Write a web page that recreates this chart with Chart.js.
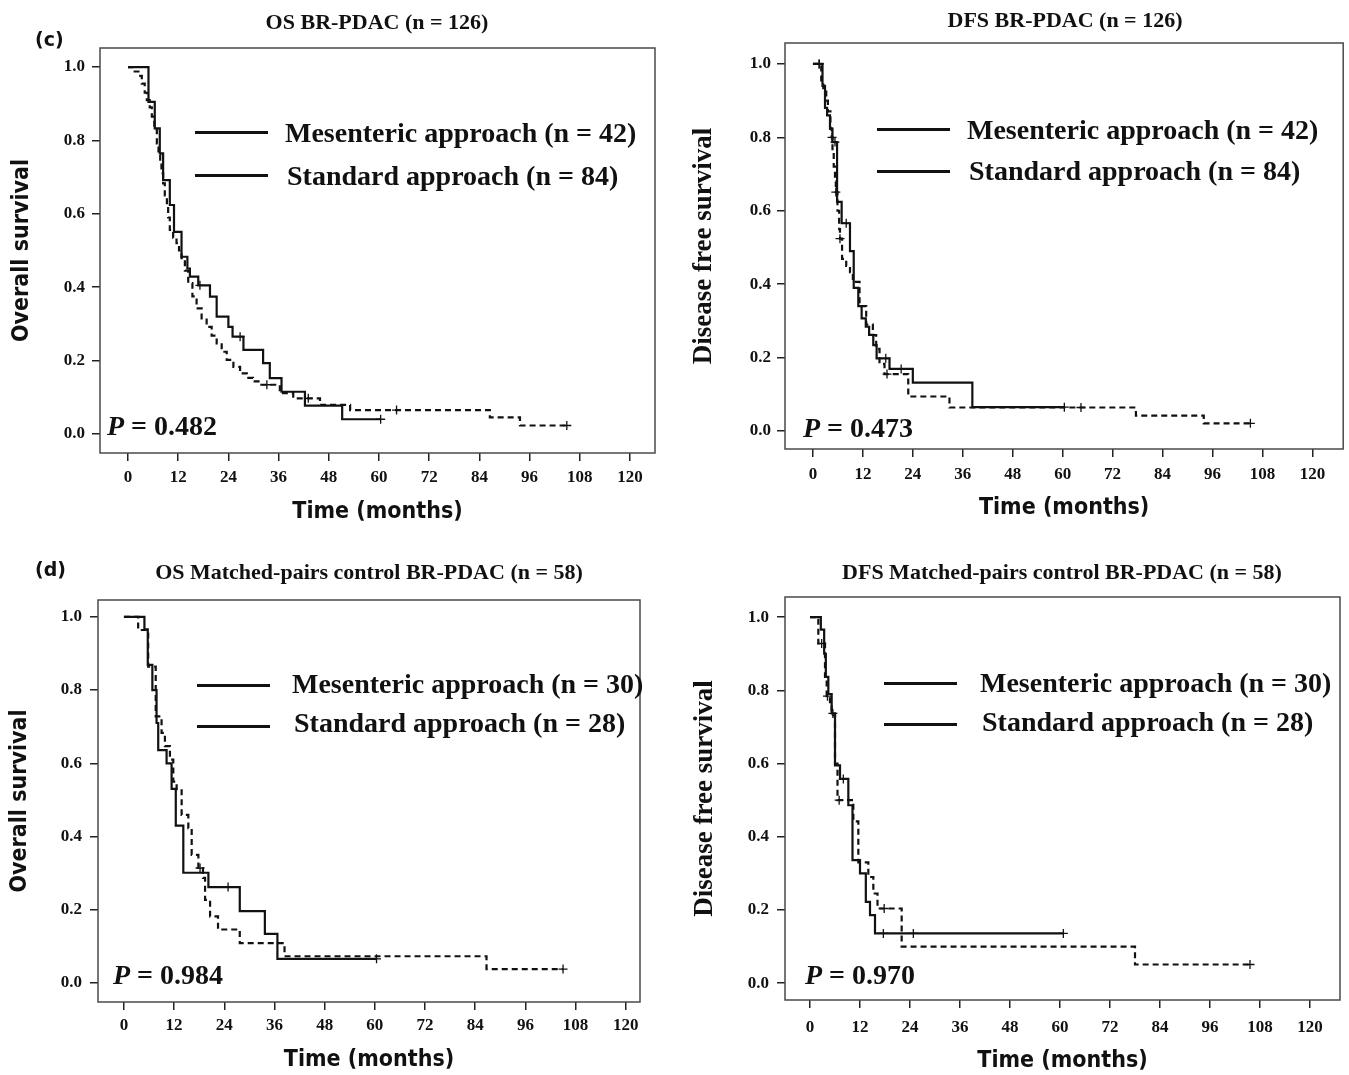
<!DOCTYPE html>
<html>
<head>
<meta charset="utf-8">
<script src="https://cdn.jsdelivr.net/npm/chart.js@4.4.0/dist/chart.umd.min.js"></script>
<style>
  body { margin: 0; background: #fff; }
  #page { position: relative; width: 1349px; height: 1075px; overflow: hidden; background: #fff; }
  canvas { position: absolute; }
  .txt { position: absolute; white-space: nowrap; line-height: 1; color: #111; z-index: 2;
         font-family: 'Liberation Serif', 'Times New Roman', serif; font-weight: bold; }
  .title { font-size: 22px; transform: translateX(-50%); }
  .legend, .pval { font-size: 28px; }
  .tag { font-family: 'DejaVu Sans', Arial, sans-serif; font-size: 19px; }
  .key { position: absolute; height: 3px; width: 73px; background: #111; z-index: 2; }
</style>
</head>
<body>
<div id="page">
  <canvas id="osBr" width="665" height="510" style="left:0;top:20px"></canvas>
  <canvas id="dfsBr" width="679" height="515" style="left:670px;top:15px"></canvas>
  <canvas id="osMp" width="665" height="500" style="left:0;top:575px"></canvas>
  <canvas id="dfsMp" width="679" height="503" style="left:670px;top:572px"></canvas>

  <!-- (c) -->
  <div class="txt tag" style="left:35px;top:30px">(c)</div>
  <div class="txt title" style="left:377px;top:11px">OS BR-PDAC (n = 126)</div>
  <div class="key" style="left:195px;top:131px"></div>
  <div class="key" style="left:195px;top:174px"></div>
  <div class="txt legend" style="left:285px;top:119px">Mesenteric approach (n = 42)</div>
  <div class="txt legend" style="left:287px;top:162px">Standard approach (n = 84)</div>
  <div class="txt pval" style="left:107px;top:412px"><i>P</i> = 0.482</div>

  <div class="txt title" style="left:1065px;top:9px">DFS BR-PDAC (n = 126)</div>
  <div class="key" style="left:877px;top:128px"></div>
  <div class="key" style="left:877px;top:170px"></div>
  <div class="txt legend" style="left:967px;top:116px">Mesenteric approach (n = 42)</div>
  <div class="txt legend" style="left:969px;top:157px">Standard approach (n = 84)</div>
  <div class="txt pval" style="left:803px;top:414px"><i>P</i> = 0.473</div>

  <!-- (d) -->
  <div class="txt tag" style="left:35px;top:560px">(d)</div>
  <div class="txt title" style="left:369px;top:561px">OS Matched-pairs control BR-PDAC (n = 58)</div>
  <div class="key" style="left:197px;top:684px"></div>
  <div class="key" style="left:197px;top:725px"></div>
  <div class="txt legend" style="left:292px;top:670px">Mesenteric approach (n = 30)</div>
  <div class="txt legend" style="left:294px;top:709px">Standard approach (n = 28)</div>
  <div class="txt pval" style="left:113px;top:961px"><i>P</i> = 0.984</div>

  <div class="txt title" style="left:1062px;top:561px">DFS Matched-pairs control BR-PDAC (n = 58)</div>
  <div class="key" style="left:884px;top:682px"></div>
  <div class="key" style="left:884px;top:723px"></div>
  <div class="txt legend" style="left:980px;top:669px">Mesenteric approach (n = 30)</div>
  <div class="txt legend" style="left:982px;top:708px">Standard approach (n = 28)</div>
  <div class="txt pval" style="left:805px;top:961px"><i>P</i> = 0.970</div>
</div>

<script>
// --- axis ticks ---
const xTicks = [0, 12, 24, 36, 48, 60, 72, 84, 96, 108, 120];
const yTicks = [0, 0.2, 0.4, 0.6, 0.8, 1.0];
const yTickLabels = ['0.0', '0.2', '0.4', '0.6', '0.8', '1.0'];

// --- (c) OS BR-PDAC: step times (months) and survival after each step ---
const osBrMesT = [0, 4.9, 6.4, 7.6, 8.4, 10.0, 11.0, 12.8, 14.2, 14.8, 16.8, 19.6, 21.2, 24.0, 25.0, 27.6, 32.3, 33.9, 36.7, 42.3, 51.2, 60.4];
const osBrMesS = [1.0, 0.905, 0.833, 0.765, 0.692, 0.624, 0.551, 0.483, 0.451, 0.429, 0.405, 0.374, 0.320, 0.292, 0.265, 0.229, 0.193, 0.152, 0.115, 0.077, 0.040, 0.040];
const osBrMesCens = [17.2, 26.8, 60.4];
const osBrStdT = [0, 1.3, 2.5, 3.3, 4.0, 4.5, 5.2, 5.7, 6.3, 6.9, 7.3, 7.7, 8.0, 8.4, 8.8, 9.3, 9.6, 10.0, 10.8, 11.6, 12.2, 12.8, 13.6, 14.4, 15.4, 16.4, 17.6, 18.8, 20.0, 21.2, 22.4, 23.6, 25.2, 26.8, 28.4, 29.9, 31.5, 36.3, 39.5, 45.9, 53.1, 86.5, 93.7, 104.9];
const osBrStdS = [1.0, 0.988, 0.976, 0.955, 0.93, 0.91, 0.89, 0.865, 0.83, 0.792, 0.76, 0.737, 0.71, 0.683, 0.65, 0.619, 0.59, 0.556, 0.535, 0.52, 0.50, 0.479, 0.445, 0.411, 0.375, 0.342, 0.315, 0.292, 0.268, 0.247, 0.224, 0.202, 0.183, 0.165, 0.153, 0.143, 0.134, 0.111, 0.097, 0.079, 0.065, 0.045, 0.023, 0.023];
const osBrStdCens = [33.2, 43.1, 64.2, 104.9];

// --- (c) DFS BR-PDAC ---
const dfsBrMesT = [0, 2.3, 2.9, 3.4, 4.1, 4.7, 5.8, 6.9, 8.9, 9.8, 10.9, 11.7, 12.7, 13.5, 14.5, 15.3, 18.4, 24.0, 38.3, 60.4];
const dfsBrMesS = [1.0, 0.94, 0.88, 0.86, 0.824, 0.787, 0.624, 0.566, 0.490, 0.390, 0.340, 0.307, 0.284, 0.262, 0.234, 0.198, 0.169, 0.132, 0.065, 0.065];
const dfsBrMesCens = [1.5, 5.3, 8.0, 17.5, 21.2, 60.4];
const dfsBrStdT = [0, 2.0, 2.5, 3.2, 3.6, 4.2, 4.5, 4.7, 5.0, 5.3, 5.5, 5.9, 6.3, 6.5, 7.0, 8.0, 8.9, 9.6, 11.2, 12.8, 14.4, 15.2, 16.0, 17.2, 22.9, 32.8, 77.6, 93.9, 105.1];
const dfsBrStdS = [1.0, 0.95, 0.934, 0.90, 0.871, 0.824, 0.80, 0.76, 0.72, 0.68, 0.651, 0.60, 0.55, 0.524, 0.469, 0.45, 0.433, 0.406, 0.340, 0.290, 0.261, 0.224, 0.183, 0.155, 0.094, 0.064, 0.042, 0.021, 0.021];
const dfsBrStdCens = [1.5, 4.6, 5.5, 6.5, 17.8, 64.4, 105.1];

// --- (d) OS matched pairs ---
const osMpMesT = [0, 4.9, 5.7, 6.8, 7.8, 8.2, 10.2, 11.4, 12.4, 14.2, 20.2, 27.7, 33.7, 36.7, 60.4];
const osMpMesS = [1.0, 0.966, 0.869, 0.80, 0.71, 0.636, 0.60, 0.53, 0.43, 0.301, 0.262, 0.196, 0.134, 0.066, 0.066];
const osMpMesCens = [24.9, 60.4];
const osMpStdT = [0, 3.4, 5.8, 7.6, 9.0, 9.8, 11.0, 11.8, 12.6, 13.8, 15.4, 16.2, 17.8, 18.9, 19.4, 20.6, 22.5, 27.7, 38.4, 86.7, 105.0];
const osMpStdS = [1.0, 0.964, 0.864, 0.728, 0.683, 0.647, 0.61, 0.55, 0.53, 0.459, 0.423, 0.35, 0.314, 0.287, 0.227, 0.182, 0.146, 0.109, 0.073, 0.038, 0.038];
const osMpStdCens = [18.2, 105.0];

// --- (d) DFS matched pairs ---
const dfsMpMesT = [0, 2.6, 3.4, 3.8, 4.4, 5.2, 6.0, 7.2, 9.2, 10.2, 12.0, 13.4, 14.4, 15.6, 60.8];
const dfsMpMesS = [1.0, 0.966, 0.90, 0.837, 0.79, 0.737, 0.595, 0.558, 0.486, 0.336, 0.300, 0.222, 0.186, 0.136, 0.136];
const dfsMpMesCens = [5.5, 8.0, 17.6, 24.8, 60.8];
const dfsMpStdT = [0, 2.0, 3.6, 4.0, 4.8, 5.2, 6.0, 6.6, 10.4, 11.6, 14.0, 15.2, 16.2, 22.0, 78.0, 105.6];
const dfsMpStdS = [1.0, 0.928, 0.837, 0.784, 0.76, 0.732, 0.60, 0.50, 0.442, 0.33, 0.29, 0.245, 0.204, 0.10, 0.051, 0.051];
const dfsMpStdCens = [2.8, 4.2, 7.0, 17.8, 105.6];

// --- helpers ---
function survAt(times, surv, t) {
    let s = surv[0];
    for (let i = 0; i < times.length; i++) {
        if (times[i] <= t) s = surv[i];
    }
    return s;
}
const curve = (times, surv) => times.map((t, i) => ({ x: t, y: surv[i] }));
const marks = (times, surv, cens) => cens.map(t => ({ x: t, y: survAt(times, surv, t) }));

// box round the plot area
const framePlugin = {
    id: 'frame',
    afterDraw(chart) {
        const { ctx, chartArea: a } = chart;
        ctx.save();
        ctx.strokeStyle = '#4a4a4a';
        ctx.lineWidth = 1.5;
        ctx.strokeRect(a.left, a.top, a.right - a.left, a.bottom - a.top);
        ctx.restore();
    }
};

const serif = 'Liberation Serif';
const sansCond = "'DejaVu Sans Condensed', 'DejaVu Sans'";

function makePanel(p) {
    const lineSet = (data, dash) => ({
        data, stepped: true, borderColor: '#111', borderWidth: 2.2, borderDash: dash,
        pointRadius: 0, fill: false
    });
    const censSet = (data) => ({
        data, showLine: false, pointStyle: 'cross', pointRadius: 4.5,
        borderColor: '#111', borderWidth: 1.3
    });
    new Chart(document.getElementById(p.id), {
        type: 'line',
        data: {
            datasets: [
                lineSet(curve(p.mesT, p.mesS), []),
                lineSet(curve(p.stdT, p.stdS), [6, 4]),
                censSet(marks(p.mesT, p.mesS, p.mesCens)),
                censSet(marks(p.stdT, p.stdS, p.stdCens))
            ]
        },
        options: {
            responsive: false,
            animation: false,
            events: [],
            layout: { padding: p.pad },
            plugins: { legend: { display: false }, tooltip: { enabled: false } },
            scales: {
                x: {
                    type: 'linear', min: p.xMin, max: p.xMax,
                    afterFit: s => { s.height = p.xH; },
                    afterBuildTicks: s => { s.ticks = xTicks.map(v => ({ value: v })); },
                    ticks: {
                        autoSkip: false, maxRotation: 0, padding: p.xPad, color: '#111',
                        font: { family: serif, weight: 'bold', size: 17 },
                        callback: v => String(v)
                    },
                    grid: { display: true, drawOnChartArea: false, drawTicks: true, tickLength: 8, color: '#222', lineWidth: 1.5 },
                    border: { display: false },
                    title: {
                        display: true, text: 'Time (months)', color: '#111',
                        font: { family: sansCond, weight: 'bold', size: 23 },
                        padding: { top: 0, bottom: p.xTitlePad }
                    }
                },
                y: {
                    min: p.yMin, max: p.yMax,
                    afterFit: s => { s.width = p.yW; },
                    afterBuildTicks: s => { s.ticks = yTicks.map(v => ({ value: v })); },
                    ticks: {
                        padding: p.yPad, color: '#111',
                        font: { family: serif, weight: 'bold', size: 17 },
                        callback: (v, i) => yTickLabels[i]
                    },
                    grid: { display: true, drawOnChartArea: false, drawTicks: true, tickLength: 8, color: '#222', lineWidth: 1.5 },
                    border: { display: false },
                    title: {
                        display: true, text: p.yTitle, color: '#111',
                        font: p.yTitleFont,
                        padding: { top: p.yTitlePad, bottom: 0 }
                    }
                }
            }
        },
        plugins: [framePlugin]
    });
}

const osFont = { family: sansCond, weight: 'bold', size: 23 };
const dfsFont = { family: serif, weight: 'bold', size: 27 };

makePanel({
    id: 'osBr', mesT: osBrMesT, mesS: osBrMesS, mesCens: osBrMesCens,
    stdT: osBrStdT, stdS: osBrStdS, stdCens: osBrStdCens,
    pad: { left: 0, top: 28, right: 10, bottom: 0 }, yW: 100, xH: 77,
    xMin: -6.69, xMax: 125.98, yMin: -0.052, yMax: 1.052,
    xPad: 6, yPad: 7, xTitlePad: 4, yTitlePad: 8,
    yTitle: 'Overall survival', yTitleFont: osFont
});
makePanel({
    id: 'dfsBr', mesT: dfsBrMesT, mesS: dfsBrMesS, mesCens: dfsBrMesCens,
    stdT: dfsBrStdT, stdS: dfsBrStdS, stdCens: dfsBrStdCens,
    pad: { left: 0, top: 28, right: 4, bottom: 0 }, yW: 115, xH: 81,
    xMin: -6.71, xMax: 127.4, yMin: -0.049, yMax: 1.057,
    xPad: 7, yPad: 6, xTitlePad: 8, yTitlePad: 18,
    yTitle: 'Disease free survival', yTitleFont: dfsFont
});
makePanel({
    id: 'osMp', mesT: osMpMesT, mesS: osMpMesS, mesCens: osMpMesCens,
    stdT: osMpStdT, stdS: osMpStdS, stdCens: osMpStdCens,
    pad: { left: 0, top: 25, right: 25, bottom: 0 }, yW: 98, xH: 73,
    xMin: -6.2, xMax: 123.4, yMin: -0.052, yMax: 1.046,
    xPad: 5, yPad: 8, xTitlePad: 1, yTitlePad: 6,
    yTitle: 'Overall survival', yTitleFont: osFont
});
makePanel({
    id: 'dfsMp', mesT: dfsMpMesT, mesS: dfsMpMesS, mesCens: dfsMpMesCens,
    stdT: dfsMpStdT, stdS: dfsMpStdS, stdCens: dfsMpStdCens,
    pad: { left: 0, top: 25, right: 9, bottom: 0 }, yW: 115, xH: 75,
    xMin: -6.0, xMax: 127.2, yMin: -0.046, yMax: 1.055,
    xPad: 9, yPad: 8, xTitlePad: 0, yTitlePad: 19,
    yTitle: 'Disease free survival', yTitleFont: dfsFont
});
</script>
</body>
</html>
